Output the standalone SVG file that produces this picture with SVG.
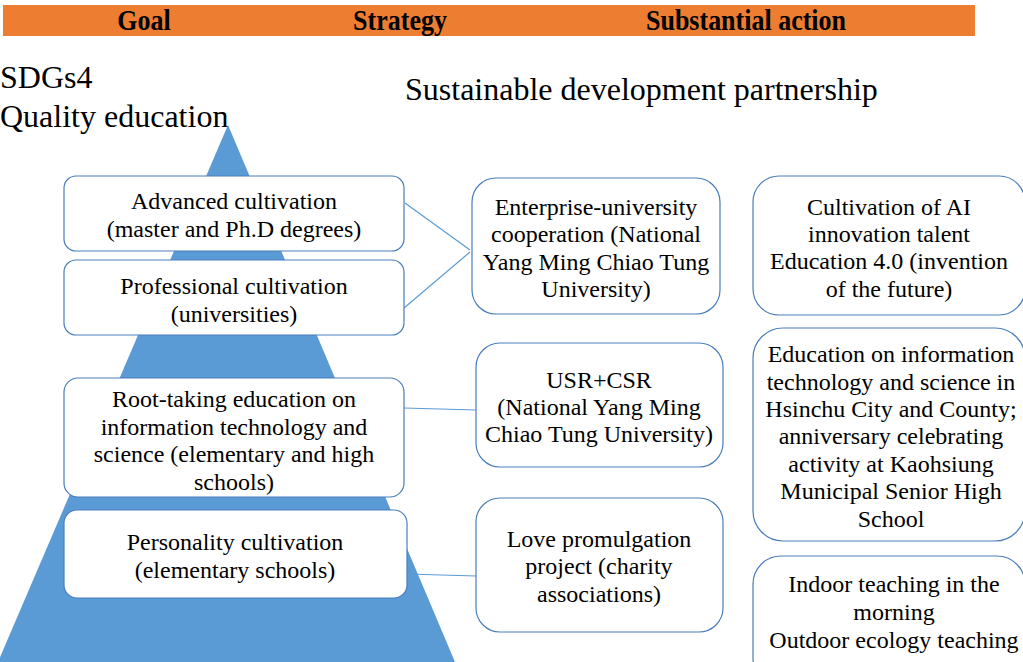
<svg xmlns="http://www.w3.org/2000/svg" width="1023" height="662" viewBox="0 0 1023 662">
<style>
text{font-family:'Liberation Serif','Times New Roman','DejaVu Serif',serif}
.hdr{font-weight:bold;font-size:25px;fill:#000;text-anchor:middle}
.big{font-size:32px;fill:#000}
.t{font-size:24px;fill:#000;text-anchor:middle}
.box{fill:#fff;stroke:#4A7EBB;stroke-width:1.2}
.conn{stroke:#5B9BD5;stroke-width:1.2;fill:none}
</style>
<rect width="1023" height="662" fill="#fff"/>
<g id="header">
<rect x="3" y="5" width="972" height="31" fill="#ED7D31"/>
<text class="hdr" transform="translate(144,30) scale(1.04,1.15)">Goal</text>
<text class="hdr" transform="translate(400,30) scale(1.04,1.15)">Strategy</text>
<text class="hdr" transform="translate(746,30) scale(1.04,1.15)">Substantial action</text>
</g>
<g id="titles">
<text class="big" x="0" y="88">SDGs4</text>
<text class="big" x="0" y="127">Quality education</text>
<text class="big" x="405" y="100">Sustainable development partnership</text>
</g>
<g id="connectors">
<line class="conn" x1="405" y1="203" x2="470" y2="250"/>
<line class="conn" x1="404" y1="308" x2="470" y2="252"/>
<line class="conn" x1="404" y1="408" x2="476" y2="410"/>
<line class="conn" x1="407" y1="574" x2="476" y2="576"/>
</g>
<g id="pyramid">
<polygon points="228,125 455,662 -2,662" fill="#5B9BD5"/>
</g>
<g id="advanced">
<rect class="box" x="64" y="176" width="340" height="75" rx="12"/>
<text class="t" x="234" y="209">Advanced cultivation</text>
<text class="t" x="234" y="237">(master and Ph.D degrees)</text>
</g>
<g id="professional">
<rect class="box" x="64" y="260" width="340" height="75" rx="12"/>
<text class="t" x="234" y="294">Professional cultivation</text>
<text class="t" x="234" y="322">(universities)</text>
</g>
<g id="roottaking">
<rect class="box" x="64" y="378" width="340" height="119" rx="14"/>
<text class="t" x="234" y="407">Root-taking education on</text>
<text class="t" x="234" y="435">information technology and</text>
<text class="t" x="234" y="462">science (elementary and high</text>
<text class="t" x="234" y="490">schools)</text>
</g>
<g id="personality">
<rect class="box" x="64" y="510" width="343" height="88" rx="13"/>
<text class="t" x="235" y="550">Personality cultivation</text>
<text class="t" x="235" y="578">(elementary schools)</text>
</g>
<g id="enterprise">
<rect class="box" x="472" y="178" width="248" height="136" rx="24"/>
<text class="t" x="596" y="215">Enterprise-university</text>
<text class="t" x="596" y="242">cooperation (National</text>
<text class="t" x="596" y="270">Yang Ming Chiao Tung</text>
<text class="t" x="596" y="297">University)</text>
</g>
<g id="usr">
<rect class="box" x="476" y="343" width="247" height="124" rx="24"/>
<text class="t" x="599" y="388">USR+CSR</text>
<text class="t" x="599" y="415">(National Yang Ming</text>
<text class="t" x="599" y="442">Chiao Tung University)</text>
</g>
<g id="love">
<rect class="box" x="476" y="498" width="247" height="134" rx="24"/>
<text class="t" x="599" y="547">Love promulgation</text>
<text class="t" x="599" y="574">project (charity</text>
<text class="t" x="599" y="602">associations)</text>
</g>
<g id="ai">
<rect class="box" x="753" y="176" width="272" height="139" rx="26"/>
<text class="t" x="889" y="215">Cultivation of AI</text>
<text class="t" x="889" y="242">innovation talent</text>
<text class="t" x="889" y="269">Education 4.0 (invention</text>
<text class="t" x="889" y="297">of the future)</text>
</g>
<g id="hsinchu">
<rect class="box" x="753" y="328" width="272" height="213" rx="30"/>
<text class="t" x="891" y="362">Education on information</text>
<text class="t" x="891" y="390">technology and science in</text>
<text class="t" x="891" y="417">Hsinchu City and County;</text>
<text class="t" x="891" y="444">anniversary celebrating</text>
<text class="t" x="891" y="472">activity at Kaohsiung</text>
<text class="t" x="891" y="499">Municipal Senior High</text>
<text class="t" x="891" y="527">School</text>
</g>
<g id="indoor">
<rect class="box" x="753" y="556" width="272" height="130" rx="28"/>
<text class="t" x="894" y="592">Indoor teaching in the</text>
<text class="t" x="894" y="620">morning</text>
<text class="t" x="894" y="648">Outdoor ecology teaching</text>
</g>
</svg>
